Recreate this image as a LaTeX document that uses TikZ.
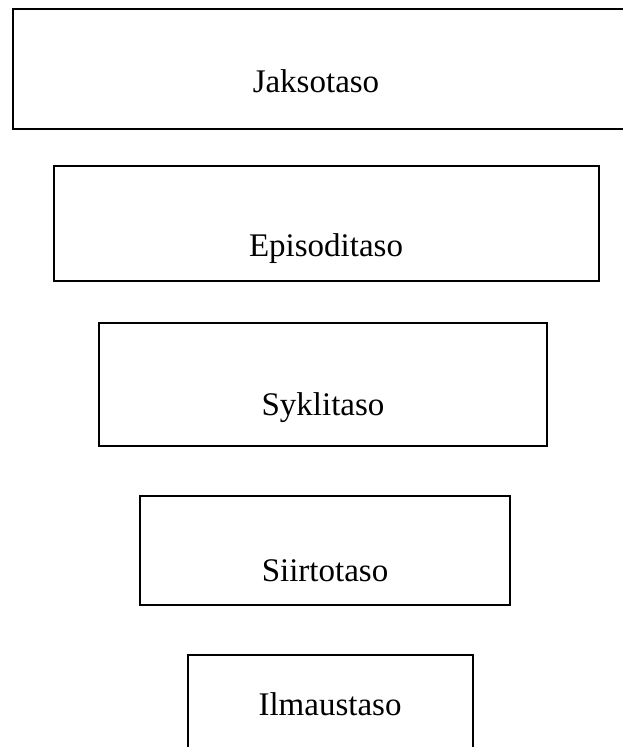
\documentclass[tikz,border=0pt]{standalone}
\usepackage{fontspec}
\setmainfont{Liberation Serif}
\begin{document}
\begin{tikzpicture}[x=1pt,y=-1pt,
  lvlbox/.style={draw=black,line width=2pt},
  lvltext/.style={anchor=base,inner sep=0pt,font=\fontsize{33}{39}\selectfont}]
\useasboundingbox (0,0) rectangle (622,747);
\draw[lvlbox] (12.5,9) rectangle (640,129);
\draw[lvlbox] (54,166) rectangle (599,281);
\draw[lvlbox] (99,323) rectangle (547,446);
\draw[lvlbox] (140,496) rectangle (510,605);
\draw[lvlbox] (187.5,655) rectangle (473,770);
\node[lvltext] (t1) at (316,92) {Jaksotaso};
\node[lvltext] (t2) at (326,256) {Episoditaso};
\node[lvltext] (t3) at (323,415) {Syklitaso};
\node[lvltext] (t4) at (325,581) {Siirtotaso};
\node[lvltext] (t5) at (330,715) {Ilmaustaso};
\end{tikzpicture}
\end{document}
